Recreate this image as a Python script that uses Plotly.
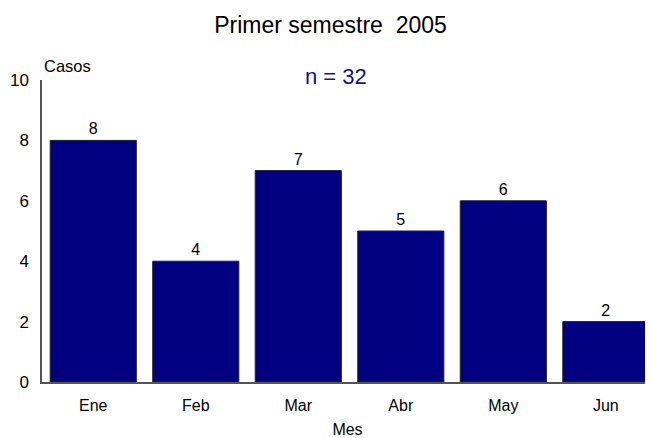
import plotly.graph_objects as go

meses = ["Ene", "Feb", "Mar", "Abr", "May", "Jun"]
casos = [8, 4, 7, 5, 6, 2]
y_ticks = [0, 2, 4, 6, 8, 10]

font_name = "Liberation Sans, Arial, sans-serif"

fig = go.Figure()
fig.add_trace(go.Bar(
    x=list(range(len(meses))),
    y=casos,
    marker=dict(color="#000080", line=dict(color="#222222", width=1)),
    text=[str(c) for c in casos],
    textposition="outside",
    textfont=dict(size=16, color="black", family=font_name),
    cliponaxis=False,
    width=0.84,
    hoverinfo="x+y",
))

fig.update_layout(
    width=645, height=430,
    paper_bgcolor="white", plot_bgcolor="white",
    margin=dict(l=34, r=0, t=72, b=56),
    font=dict(family=font_name, size=16, color="black"),
    title=dict(text="Primer semestre  2005", x=0.5, xanchor="center",
               y=0.96, yanchor="middle", font=dict(size=23, family=font_name)),
    showlegend=False,
    xaxis=dict(
        range=[-0.5, 5.46],
        tickmode="array", tickvals=list(range(len(meses))), ticktext=meses,
        showline=True, linecolor="#555555", linewidth=1.5,
        showgrid=False, zeroline=False, ticks="", ticklen=0,
        tickfont=dict(size=16), ticklabelstandoff=8,
        title=dict(text="Mes", font=dict(size=16), standoff=14),
    ),
    yaxis=dict(
        range=[0, 10],
        tickmode="array", tickvals=y_ticks,
        showline=True, linecolor="#555555", linewidth=1.5,
        showgrid=False, zeroline=False, ticks="", ticklen=0,
        tickfont=dict(size=17), ticklabelstandoff=8,
    ),
    annotations=[
        dict(text="Casos", xref="paper", yref="paper", x=0.0, y=1.046,
             xanchor="left", yanchor="middle", showarrow=False,
             font=dict(size=16.5, family=font_name)),
        dict(text="n = 32", xref="paper", yref="paper", x=0.481, y=1.013,
             xanchor="center", yanchor="middle", showarrow=False,
             font=dict(size=22, color="#101090", family=font_name)),
    ],
)

fig.write_html("out.html")
